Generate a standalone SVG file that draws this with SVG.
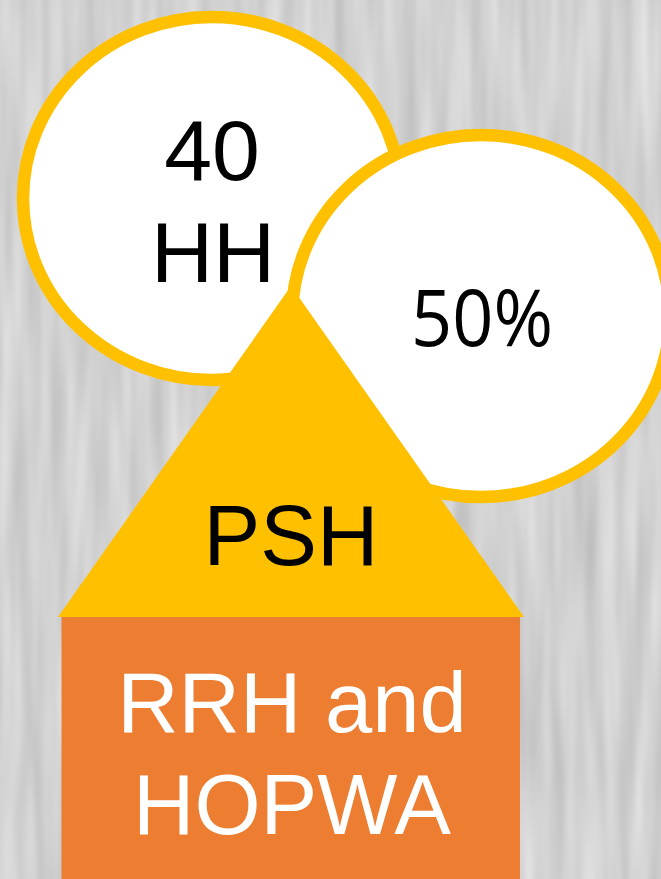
<svg xmlns="http://www.w3.org/2000/svg" width="661" height="879" viewBox="0 0 661 879">
  <style>
    .ring { fill: #FFFFFF; stroke: #FFC000; stroke-width: 12.5; }
    .lbl { font-family: "Liberation Sans", Arial, sans-serif; font-size: 86px; text-anchor: middle; }
    .calibri { font-family: "Open Sans", "Noto Sans", sans-serif; font-size: 78px; text-anchor: middle; }
  </style>
  <defs>
    <filter id="grain" x="0" y="0" width="661" height="879" filterUnits="userSpaceOnUse" color-interpolation-filters="sRGB">
      <feTurbulence type="fractalNoise" baseFrequency="0.06 0.005" numOctaves="2" seed="7" result="n"/>
      <feColorMatrix in="n" type="matrix" values="0.2 0 0 0 0.72  0.2 0 0 0 0.72  0.2 0 0 0 0.72  0 0 0 0 1"/>
    </filter>
  </defs>
  <rect id="background" x="0" y="0" width="661" height="879" fill="#D2D2D2" filter="url(#grain)"/>
  <g id="node-40hh">
    <ellipse class="ring" cx="212" cy="198.5" rx="189" ry="181.5"/>
    <text class="lbl" x="212" y="180">40</text>
    <text class="lbl" x="213" y="282">HH</text>
  </g>
  <g id="node-50pct">
    <ellipse class="ring" cx="481" cy="316" rx="189" ry="181"/>
    <text class="calibri" x="482" y="346" textLength="142" lengthAdjust="spacingAndGlyphs">50%</text>
  </g>
  <g id="node-psh">
    <polygon points="291,286 58,617 524,617" fill="#FFC000"/>
    <text class="lbl" x="291" y="565" style="font-size:85px">PSH</text>
  </g>
  <g id="node-rrh">
    <rect x="61.5" y="617" width="458.5" height="262" fill="#ED7D31"/>
    <text class="lbl" x="292" y="732" fill="#FFFFFF" style="font-size:85px">RRH and</text>
    <text class="lbl" x="292" y="834" fill="#FFFFFF" style="font-size:85px">HOPWA</text>
  </g>
  <g id="connectors"/>
</svg>
